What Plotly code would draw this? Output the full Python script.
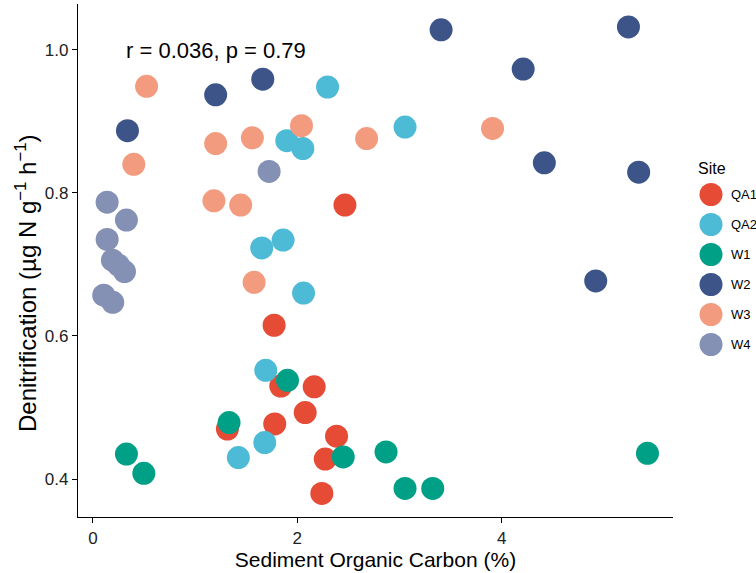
import plotly.graph_objects as go

# Sediment organic carbon (%) and denitrification rate per site
sites = ["QA1", "QA2", "W1", "W2", "W3", "W4"]
colors = ["#E64B35", "#4DBBD5", "#00A087", "#3C5488", "#F39B7F", "#8491B4"]

qa1_soc = [2.466, 1.773, 1.838, 2.165, 2.077, 1.779, 1.316, 2.384, 2.273, 2.240]
qa1_den = [0.783, 0.615, 0.530, 0.529, 0.493, 0.477, 0.470, 0.460, 0.428, 0.380]

qa2_soc = [2.296, 3.054, 1.897, 2.054, 1.861, 1.652, 2.061, 1.691, 1.681, 1.423]
qa2_den = [0.948, 0.892, 0.873, 0.862, 0.734, 0.723, 0.660, 0.552, 0.451, 0.430]

w1_soc = [1.904, 1.332, 0.328, 0.498, 2.449, 2.868, 3.054, 3.325, 5.426]
w1_den = [0.538, 0.479, 0.435, 0.408, 0.431, 0.438, 0.387, 0.387, 0.436]

w2_soc = [3.407, 5.240, 4.210, 4.417, 5.340, 4.920, 1.201, 1.662, 0.338]
w2_den = [1.028, 1.032, 0.973, 0.842, 0.829, 0.677, 0.937, 0.959, 0.887]

w3_soc = [0.525, 0.400, 1.201, 1.560, 2.041, 2.678, 3.910, 1.184, 1.446, 1.577]
w3_den = [0.949, 0.840, 0.869, 0.877, 0.894, 0.876, 0.890, 0.789, 0.783, 0.675]

w4_soc = [1.724, 0.139, 0.328, 0.139, 0.191, 0.250, 0.309, 0.106, 0.194]
w4_den = [0.830, 0.787, 0.762, 0.735, 0.706, 0.699, 0.690, 0.657, 0.647]

soc_by_site = [qa1_soc, qa2_soc, w1_soc, w2_soc, w3_soc, w4_soc]
den_by_site = [qa1_den, qa2_den, w1_den, w2_den, w3_den, w4_den]

x_ticks = [0, 2, 4]
y_ticks = [0.4, 0.6, 0.8, 1.0]

FONT = "Arial, Liberation Sans, Helvetica, sans-serif"
W, H = 756, 573
M_L, M_R, M_T, M_B = 78, 83, 4, 56
plot_w = W - M_L - M_R
plot_h = H - M_T - M_B

fig = go.Figure()
for name, col, xs, ys in zip(sites, colors, soc_by_site, den_by_site):
    fig.add_trace(go.Scatter(
        x=xs, y=ys, mode="markers", name=name, showlegend=False,
        marker=dict(size=23, color=col, line=dict(width=0)),
    ))


def px_to_paper_x(px):
    return (px - M_L) / plot_w


def px_to_paper_y(py):
    return (H - M_B - py) / plot_h


# Legend drawn as pixel-sized circles beside the panel
shapes = []
annotations = []
legend_x = 711
legend_y0 = 194.5
legend_step = 30
r = 11.5
annotations.append(dict(
    text="Site", xref="paper", yref="paper",
    x=px_to_paper_x(696), y=px_to_paper_y(168),
    xanchor="left", yanchor="middle", showarrow=False,
    font=dict(family=FONT, size=16, color="black"),
))
for i, (name, col) in enumerate(zip(sites, colors)):
    cy = legend_y0 + i * legend_step
    shapes.append(dict(
        type="circle", xref="paper", yref="paper",
        xsizemode="pixel", ysizemode="pixel",
        xanchor=px_to_paper_x(legend_x), yanchor=px_to_paper_y(cy),
        x0=-r, x1=r, y0=-r, y1=r,
        fillcolor=col, line=dict(width=0),
    ))
    annotations.append(dict(
        text=name, xref="paper", yref="paper",
        x=px_to_paper_x(729), y=px_to_paper_y(cy),
        xanchor="left", yanchor="middle", showarrow=False,
        font=dict(family=FONT, size=13, color="black"),
    ))

# Correlation label
annotations.append(dict(
    text="r = 0.036, p = 0.79", xref="x", yref="y",
    x=1.2, y=0.999, xanchor="center", yanchor="middle", showarrow=False,
    font=dict(family=FONT, size=22, color="black"),
))

# Y-axis title (rotated), with superscript exponents
annotations.append(dict(
    text="Denitrification (µg N g<sup>−1</sup> h<sup>−1</sup>)",
    xref="paper", yref="paper",
    x=px_to_paper_x(26), y=px_to_paper_y(283),
    xanchor="center", yanchor="middle", textangle=-90, showarrow=False,
    font=dict(family=FONT, size=24, color="black"),
))

axis_common = dict(
    showgrid=False, zeroline=False, showline=True, linecolor="black",
    linewidth=1.3, ticks="outside", ticklen=5, tickwidth=1.3,
    tickcolor="black", tickfont=dict(family=FONT, size=17, color="#222"),
    mirror=False,
)

fig.update_layout(
    width=W, height=H,
    margin=dict(l=M_L, r=M_R, t=M_T, b=M_B),
    paper_bgcolor="white", plot_bgcolor="white",
    showlegend=False,
    xaxis=dict(
        range=[-0.146, 5.676], tickvals=x_ticks,
        ticktext=[str(v) for v in x_ticks],
        title=dict(text="Sediment Organic Carbon (%)",
                   font=dict(family=FONT, size=21, color="black"), standoff=3),
        **axis_common,
    ),
    yaxis=dict(
        range=[0.347, 1.064], tickvals=y_ticks,
        ticktext=[f"{v:.1f}" for v in y_ticks],
        **axis_common,
    ),
    shapes=shapes,
    annotations=annotations,
)

fig.write_html("out.html")
